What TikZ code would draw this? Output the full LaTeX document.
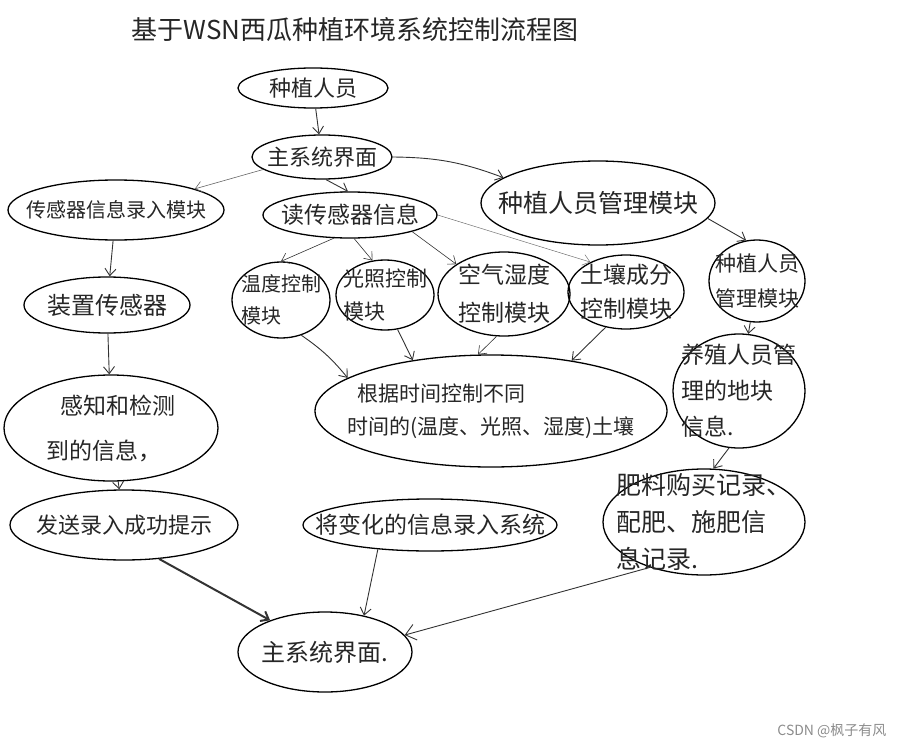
\documentclass[tikz,border=0pt]{standalone}
\usepackage{fontspec}
\setmainfont{Noto Sans CJK SC}
\usepackage{xcolor}
\usepackage{tikz}
\usetikzlibrary{arrows.meta,shapes.geometric}

\tikzset{
  oval/.style={draw, ellipse, line width=1.3pt, inner xsep=-60pt, inner ysep=-40pt, text=black!85},
  arr/.style={-{Straight Barb[length=7pt,width=11pt]}, line width=0.9pt, black!80},
}
\newcommand{\fs}[2]{\fontsize{#1}{#2}\selectfont}

\begin{document}
\begin{tikzpicture}[x=1pt,y=-1pt]
\useasboundingbox (0,0) rectangle (904,749);
\node[font=\fs{26}{26}, text=black!85] (title) at (355,30) {基于WSN西瓜种植环境系统控制流程图};
\node[oval, font=\fs{22}{22}, minimum width=150pt, minimum height=40pt] (grower) at (313,88) {种植人员};
\node[oval, font=\fs{22}{22}, minimum width=140pt, minimum height=44pt] (main) at (322,157) {主系统界面};
\node[oval, font=\fs{20}{20}, minimum width=216pt, minimum height=60pt] (sensorin) at (116,210) {传感器信息录入模块};
\node[oval, font=\fs{23}{23}, minimum width=174pt, minimum height=46pt] (read) at (350,215) {读传感器信息};
\node[oval, font=\fs{25}{25}, minimum width=234pt, minimum height=84pt] (mgmt) at (598,203) {种植人员管理模块};
\node[oval, font=\fs{24}{24}, minimum width=166pt, minimum height=56pt] (dev) at (107,305) {装置传感器};
\node[oval, font=\fs{20}{32}, align=left, minimum width=98pt, minimum height=76pt] (temp) at (281,300) {温度控制\\模块};
\node[oval, font=\fs{21}{33}, align=left, minimum width=98pt, minimum height=70pt] (light) at (385,295) {光照控制\\模块};
\node[oval, font=\fs{23}{38}, align=left, minimum width=132pt, minimum height=84pt] (air) at (504,294) {空气湿度\\控制模块};
\node[oval, font=\fs{23}{34}, align=left, minimum width=116pt, minimum height=74pt] (soil) at (626,292) {土壤成分\\控制模块};
\node[oval, font=\fs{21}{35}, align=left, minimum width=96pt, minimum height=82pt] (mgmtb) at (757,281) {种植人员\\管理模块};
\node[oval, font=\fs{23}{36}, align=left, minimum width=132pt, minimum height=114pt] (farm) at (739,391) {养殖人员管\\理的地块\\信息.};
\node[oval, font=\fs{21}{33}, align=left, minimum width=352pt, minimum height=112pt] (time) at (491,411) {\hspace*{10pt}根据时间控制不同\\时间的(温度、光照、湿度)土壤};
\node[oval, font=\fs{23}{45}, align=left, minimum width=214pt, minimum height=106pt] (sense) at (111,428) {\hspace*{14pt}感知和检测\\到的信息，};
\node[oval, font=\fs{22}{22}, minimum width=228pt, minimum height=70pt] (send) at (124,525) {发送录入成功提示};
\node[oval, font=\fs{23}{23}, minimum width=254pt, minimum height=52pt] (change) at (430,525) {将变化的信息录入系统};
\node[oval, font=\fs{25}{37}, align=left, minimum width=202pt, minimum height=106pt] (fert) at (704,522) {肥料购买记录、\\配肥、施肥信\\息记录.};
\node[oval, font=\fs{24}{24}, minimum width=174pt, minimum height=80pt] (bmain) at (325,652) {主系统界面.};
\node[font=\fs{14}{14}, text=black!45, anchor=east] (mark) at (890,731) {CSDN @枫子有风};

\draw[arr] (grower) -- (main);
\draw[arr, line width=0.6pt, black!60] (main.192) -- (sensorin.15);
\draw[arr] (main.-80) -- (read.95);
\draw[arr] (main.east) to[bend left=10] (mgmt.165);
\draw[arr] (mgmt.-8) -- (mgmtb.105);
\draw[arr] (sensorin) -- (dev);
\draw[arr, line width=0.6pt] (read.235) -- (temp.north);
\draw[arr, line width=0.6pt] (read.-80) -- (light.110);
\draw[arr, line width=0.6pt] (read.-15) -- (air.148);
\draw[arr, line width=0.5pt, black!55] (read.east) -- (soil.140);
\draw[arr] (dev) -- (sense);
\draw[arr] (temp.-60) to[bend left=8] (time.167);
\draw[arr] (light.-70) -- (time.147);
\draw[arr, line width=0.6pt] (air.-100) -- (time.103);
\draw[arr] (soil.-120) -- (time.32);
\draw[arr] (mgmtb) -- (farm);
\draw[arr] (farm.-100) -- (fert.80);
\draw[arr] (sense) -- (send);
\draw[arr, line width=2pt] (send.-44) -- (bmain.150);
\draw[arr] (change.-155) -- (bmain.43);
\draw[-{Straight Barb[length=10pt,width=16pt]}, line width=0.9pt, black!80] (fert.-140) -- (bmain.12);
\end{tikzpicture}
\end{document}
